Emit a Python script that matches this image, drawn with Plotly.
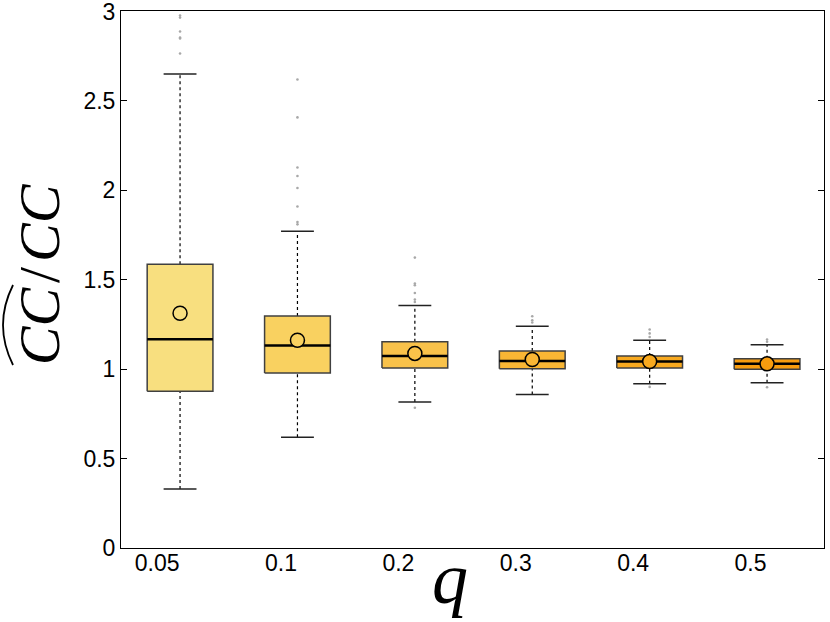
import plotly.graph_objects as go

# values
q_labels = ["0.05", "0.1", "0.2", "0.3", "0.4", "0.5"]
lower_whisker = [0.33, 0.62, 0.816, 0.859, 0.918, 0.924]
q1 = [0.877, 0.979, 1.007, 1.002, 1.007, 1.0]
median = [1.168, 1.132, 1.074, 1.046, 1.043, 1.03]
q3 = [1.587, 1.298, 1.153, 1.101, 1.073, 1.058]
upper_whisker = [2.65, 1.771, 1.356, 1.24, 1.162, 1.136]
mean = [1.313, 1.162, 1.088, 1.054, 1.043, 1.03]
outliers = [
    [2.978, 2.966, 2.888, 2.855, 2.849, 2.765],
    [2.62, 2.408, 2.128, 2.08, 2.013, 1.91, 1.823, 1.81],
    [1.624, 1.479, 1.469, 1.426, 1.389, 1.376, 0.784],
    [1.296, 1.274, 1.261],
    [1.222, 1.2, 1.18, 0.901],
    [1.166, 1.153, 0.899],
]
fills = ["#F8DF7F", "#F9D160", "#F9C24A", "#F9B634", "#F8A91F", "#F89C0E"]
y_ticks = [0, 0.5, 1, 1.5, 2, 2.5, 3]

pos = list(range(len(q_labels)))
hw = 0.28   # half box width
cw = 0.14   # half cap width

fig = go.Figure()

# whiskers (dashed)
wx, wy = [], []
for i in pos:
    wx += [i, i, None, i, i, None]
    wy += [lower_whisker[i], q1[i], None, q3[i], upper_whisker[i], None]
fig.add_trace(go.Scatter(x=wx, y=wy, mode="lines",
                         line=dict(color="black", width=1.2, dash="3px,3px"),
                         hoverinfo="skip"))

# caps
cx, cy = [], []
for i in pos:
    cx += [i - cw, i + cw, None, i - cw, i + cw, None]
    cy += [lower_whisker[i], lower_whisker[i], None, upper_whisker[i], upper_whisker[i], None]
fig.add_trace(go.Scatter(x=cx, y=cy, mode="lines",
                         line=dict(color="#222222", width=1.5), hoverinfo="skip"))

# boxes
for i in pos:
    fig.add_trace(go.Scatter(
        x=[i - hw, i + hw, i + hw, i - hw, i - hw],
        y=[q1[i], q1[i], q3[i], q3[i], q1[i]],
        mode="lines", fill="toself", fillcolor=fills[i],
        line=dict(color="#404040", width=1.5), hoverinfo="skip"))

# medians
mx, my = [], []
for i in pos:
    mx += [i - hw, i + hw, None]
    my += [median[i], median[i], None]
fig.add_trace(go.Scatter(x=mx, y=my, mode="lines",
                         line=dict(color="black", width=2.5), hoverinfo="skip"))

# outliers
ox, oy = [], []
for i in pos:
    ox += [i] * len(outliers[i])
    oy += outliers[i]
fig.add_trace(go.Scatter(x=ox, y=oy, mode="markers",
                         marker=dict(color="#a8a8a8", size=2.6)))

# means
fig.add_trace(go.Scatter(x=pos, y=mean, mode="markers",
                         marker=dict(color=fills, size=14,
                                     line=dict(color="black", width=1.5))))

fig.update_layout(
    width=830, height=622,
    margin=dict(l=121, r=6, t=11, b=74),
    plot_bgcolor="white", paper_bgcolor="white",
    showlegend=False,
    font=dict(family="Liberation Sans, Arial, sans-serif", size=23, color="black"),
)
fig.update_xaxes(
    range=[-0.503, 5.485], tickvals=pos, ticktext=q_labels,
    ticks="", ticklabelposition="outside left", ticklabelstandoff=-6,
    automargin=False,
    showline=True, linecolor="black", linewidth=1, mirror=True,
    showgrid=False, zeroline=False,
)
fig.update_yaxes(
    range=[0, 3.003], tickvals=y_ticks, ticktext=[f"{v:g}" for v in y_ticks],
    ticks="inside", ticklen=6, tickcolor="black", mirror="ticks",
    ticklabeloverflow="allow",
    showline=True, linecolor="black", linewidth=1, automargin=False,
    showgrid=False, zeroline=False,
)

# y title: CC-hat / CC
fig.add_annotation(
    text="<i>CC</i>\u200a/\u200a<i>CC</i>", xref="paper", yref="paper",
    x=-0.1166, y=0.51, xanchor="center", yanchor="middle", textangle=-90,
    showarrow=False, font=dict(family="Liberation Serif, serif", size=58),
)
fig.add_shape(
    type="path", xref="paper", yref="paper",
    path="M -0.1536,0.4898 Q -0.1821,0.4153 -0.1536,0.3408",
    line=dict(color="black", width=1.8),
)
fig.add_annotation(
    text="<i>q</i>", xref="paper", yref="paper",
    x=0.468, y=0, yshift=-31, xanchor="center", yanchor="middle",
    showarrow=False, font=dict(family="Liberation Serif, serif", size=72),
)

fig.write_html("out.html", config={"displayModeBar": False},
               post_script="document.body.style.margin = '0px';")
